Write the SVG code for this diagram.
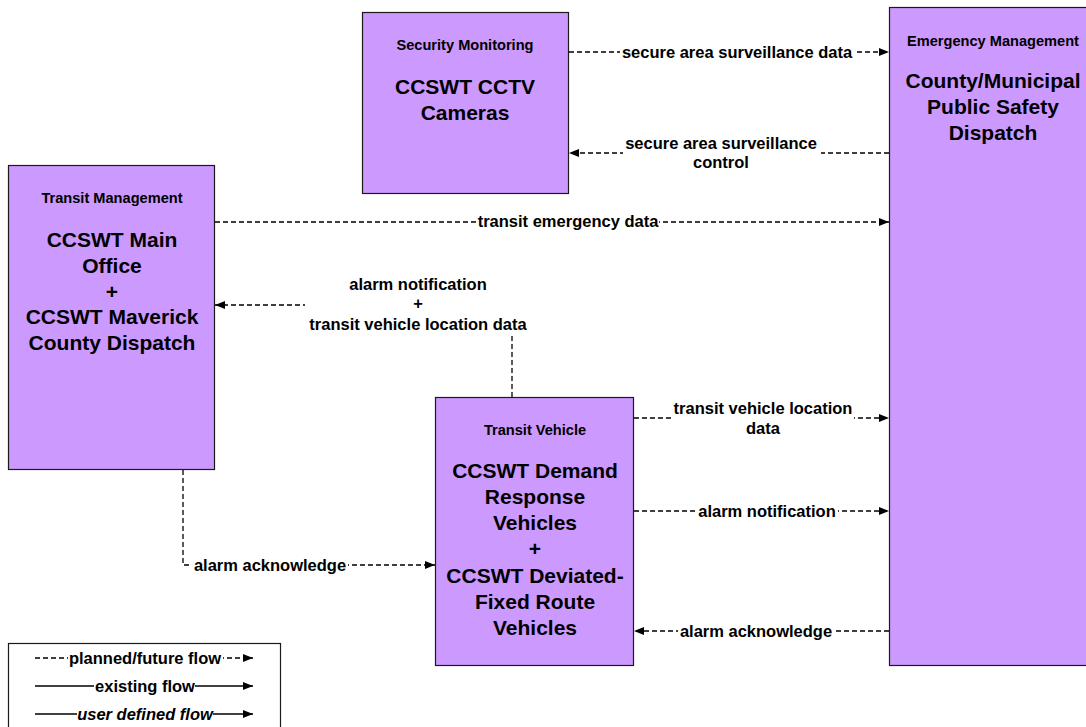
<svg xmlns="http://www.w3.org/2000/svg" width="1086" height="727" viewBox="0 0 1086 727">
<defs>
<marker id="arr" viewBox="0 0 10 8" refX="10" refY="4" markerWidth="10" markerHeight="8" markerUnits="userSpaceOnUse" orient="auto">
<path d="M0,0 L10,4 L0,8 Z" fill="#000"/>
</marker>
</defs>
<style>
.node{fill:#CC99FF;stroke:#1a1a1a;stroke-width:1.2}
.t{font-family:"Liberation Sans",Arial,sans-serif;font-weight:bold;fill:#000;text-anchor:middle}
.title{font-size:14.6px}
.main{font-size:21px}
.lbl{font-size:16.5px}
.bg{fill:#fff}
.dash{fill:none;stroke:#000;stroke-width:1.3;stroke-dasharray:5,3}
.solid{fill:none;stroke:#000;stroke-width:1.3}
</style>
<rect x="0" y="0" width="1086" height="727" fill="#fff"/>

<g id="connectors">
<path class="dash" d="M569,52 H889" marker-end="url(#arr)"/>
<path class="dash" d="M889,153 H569" marker-end="url(#arr)"/>
<path class="dash" d="M215,222 H889" marker-end="url(#arr)"/>
<path class="dash" d="M512,397 V305 H215" marker-end="url(#arr)"/>
<path class="dash" d="M634,418 H889" marker-end="url(#arr)"/>
<path class="dash" d="M634,511 H889" marker-end="url(#arr)"/>
<path class="dash" d="M889,631 H634" marker-end="url(#arr)"/>
<path class="dash" d="M183,470 V565 H435" marker-end="url(#arr)"/>

<rect class="bg" x="620" y="44" width="234" height="18"/>
<text class="t lbl" x="737" y="58">secure area surveillance data</text>
<rect class="bg" x="623" y="134" width="198" height="37"/>
<text class="t lbl" x="721" y="149">secure area surveillance</text>
<text class="t lbl" x="721" y="168">control</text>
<rect class="bg" x="477" y="213" width="182" height="18"/>
<text class="t lbl" x="568" y="227">transit emergency data</text>
<rect class="bg" x="305" y="274" width="227" height="62"/>
<text class="t lbl" x="418" y="290">alarm notification</text>
<text class="t lbl" x="418" y="309">+</text>
<text class="t lbl" x="418" y="330">transit vehicle location data</text>
<rect class="bg" x="672" y="399" width="182" height="39"/>
<text class="t lbl" x="763" y="414">transit vehicle location</text>
<text class="t lbl" x="763" y="434">data</text>
<rect class="bg" x="697" y="502" width="141" height="18"/>
<text class="t lbl" x="767" y="517">alarm notification</text>
<rect class="bg" x="678" y="622" width="156" height="18"/>
<text class="t lbl" x="756" y="637">alarm acknowledge</text>
<rect class="bg" x="191" y="556" width="157" height="18"/>
<text class="t lbl" x="270" y="571">alarm acknowledge</text>
</g>

<g id="security-monitoring">
<rect class="node" x="362.5" y="12.5" width="206" height="181"/>
<text class="t title" x="465" y="50">Security Monitoring</text>
<text class="t main" x="465" y="94">CCSWT CCTV</text>
<text class="t main" x="465" y="120">Cameras</text>
</g>

<g id="emergency-management">
<rect class="node" x="889.5" y="7.5" width="198" height="658"/>
<text class="t title" x="993" y="46">Emergency Management</text>
<text class="t main" x="993" y="88">County/Municipal</text>
<text class="t main" x="993" y="114">Public Safety</text>
<text class="t main" x="993" y="140">Dispatch</text>
</g>

<g id="transit-management">
<rect class="node" x="8.5" y="165.5" width="206" height="304"/>
<text class="t title" x="112" y="203">Transit Management</text>
<text class="t main" x="112" y="247">CCSWT Main</text>
<text class="t main" x="112" y="273">Office</text>
<text class="t main" x="112" y="299">+</text>
<text class="t main" x="112" y="324">CCSWT Maverick</text>
<text class="t main" x="112" y="350">County Dispatch</text>
</g>

<g id="transit-vehicle">
<rect class="node" x="435.5" y="397.5" width="198" height="268"/>
<text class="t title" x="535" y="435">Transit Vehicle</text>
<text class="t main" x="535" y="478">CCSWT Demand</text>
<text class="t main" x="535" y="504">Response</text>
<text class="t main" x="535" y="530">Vehicles</text>
<text class="t main" x="535" y="556">+</text>
<text class="t main" x="535" y="583">CCSWT Deviated-</text>
<text class="t main" x="535" y="609">Fixed Route</text>
<text class="t main" x="535" y="635">Vehicles</text>
</g>

<g id="legend">
<rect x="8.5" y="643.5" width="272" height="90" fill="#fff" stroke="#1a1a1a" stroke-width="1.2"/>
<path class="dash" d="M35,658 H253" marker-end="url(#arr)"/>
<path class="solid" d="M35,686 H253" marker-end="url(#arr)"/>
<path class="solid" d="M35,714 H253" marker-end="url(#arr)"/>
<rect class="bg" x="68" y="649" width="155" height="18"/>
<text class="t lbl" x="145" y="664">planned/future flow</text>
<rect class="bg" x="94" y="677" width="101" height="18"/>
<text class="t lbl" x="145" y="692">existing flow</text>
<rect class="bg" x="77" y="705" width="136" height="18"/>
<text class="t lbl" x="145" y="720" style="font-style:italic">user defined flow</text>
</g>
</svg>
